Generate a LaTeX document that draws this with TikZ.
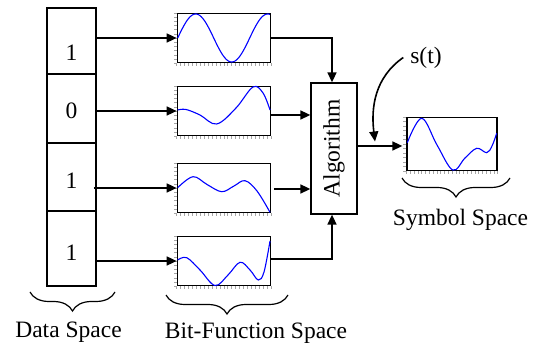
\documentclass[tikz,border=0pt]{standalone}
\usepackage{fontspec}
\setmainfont{Liberation Serif}
\usetikzlibrary{arrows.meta,calc,decorations.pathreplacing}
\newcommand{\plotticks}[1]{%
  \foreach \k in {0,...,12}{\draw[tickmark] ($(#1.south west)!{\k/12}!(#1.north west)$) -- ++(-3,0);}
  \foreach \k in {0,...,24}{\draw[tickmark] ($(#1.south west)!{\k/24}!(#1.south east)$) -- ++(0,2.5);}
}
\begin{document}
\begin{tikzpicture}[x=0.5pt,y=-0.5pt,
  font=\fontsize{11.75pt}{14pt}\selectfont,
  cell/.style={draw, line width=0.85pt, minimum width=24.5pt, inner sep=0},
  digit/.style={inner sep=0},
  plotbox/.style={draw, line width=0.65pt, minimum width=46.5pt, minimum height=24.5pt, inner sep=0},
  wave/.style={blue, line width=0.55pt},
  tickmark/.style={gray!70, line width=0.25pt},
  conn/.style={line width=0.8pt, -{Triangle[length=5pt,width=4.5pt]}},
  algbox/.style={draw, line width=0.65pt, minimum width=23pt, minimum height=65.5pt, inner sep=0},
  spacebrace/.style={decorate, decoration={brace, mirror, amplitude=9.5pt}, line width=0.6pt},
  lbl/.style={inner sep=0}]
\useasboundingbox (0,0) rectangle (534,346);

% data cells
\node[cell, minimum height=33pt]   (c1) at (71.5,41) {};
\node[cell, minimum height=34.5pt] (c2) at (71.5,108.5) {};
\node[cell, minimum height=34pt]   (c3) at (71.5,177) {};
\node[cell, minimum height=37.5pt] (c4) at (71.5,248.5) {};
\node[digit] (d1) at (71.5,52.5) {1};
\node[digit] (d2) at (71.5,111) {0};
\node[digit] (d3) at (71.5,181) {1};
\node[digit] (d4) at (71.5,252.5) {1};

% plots
\node[plotbox] (p1) at (223.8,38) {};
\node[plotbox] (p2) at (223.8,111) {};
\node[plotbox] (p3) at (223.8,188) {};
\node[plotbox] (p4) at (223.8,261) {};
\node[plotbox, minimum width=45pt, minimum height=26.5pt] (ps) at (452,144) {};
\plotticks{p1}
\plotticks{p2}
\plotticks{p3}
\plotticks{p4}
\plotticks{ps}

\draw[wave] plot[domain=0:92.3, samples=80] ({177.7+\x}, {38-24*sin(5*\x)});
\draw[wave] plot[smooth, tension=0.6] coordinates {(177.7,110) (186,109.5) (200,115) (216.7,124) (236,108) (253,87) (263,93) (270,110)};
\draw[wave] plot[smooth, tension=0.6] coordinates {(177.7,187.7) (193,176.7) (207,184.5) (221.7,191.7) (234,186) (245,180.7) (257,191) (270,212.3)};
\draw[wave] plot[smooth, tension=0.6] coordinates {(177.7,260) (186.7,257.7) (200,270) (215,285.5) (228,275) (240,262.3) (250,270) (258.3,280) (264,272) (270,241)};
\draw[wave] plot[smooth, tension=0.6] coordinates {(407.3,142.7) (421.7,118.3) (437,145) (452.7,170) (465,158) (476.7,148.3) (486.7,152.7) (492,146) (496.7,133.3)};

% algorithm
\node[algbox] (alg) at (334,148.5) {};
\node[lbl, rotate=90] (algtxt) at (alg.center) {Algorithm};

% data -> plots
\draw[conn] (c1.east |- p1.west) -- (p1.west);
\draw[conn] (c2.east |- p2.west) -- (p2.west);
\coordinate (s3) at ($(c3.east |- p3.west)+(-3,0)$);
\draw[conn] (s3) -- (p3.west);
\draw[conn] (c4.east |- p4.west) -- (p4.west);

% plots -> algorithm
\draw[conn] (p1.east) -| ($(alg.north)+(-2,0)$);
\coordinate (a2) at ($(p2.east)+(0,4)$);
\draw[conn] (a2) -- (a2 -| alg.west);
\coordinate (a3) at ($(p3.east)+(3,1)$);
\draw[conn] (a3) -- (a3 -| alg.west);
\coordinate (a4) at ($(p4.east)+(0,-2)$);
\draw[conn] (a4) -| ($(alg.south)+(-2,0)$);

% algorithm -> symbol
\coordinate (o1) at ($(alg.east)+(0,-2.5)$);
\draw[conn, shorten >=2pt] (o1) -- (o1 -| ps.west);

% s(t)
\node (st) at (426,57.5) {s(t)};
\coordinate (stend) at (375,141.5);
\draw[conn] (st.west) to[out=215, in=97] (stend);

% braces and labels
\draw[spacebrace] (30,292) -- (115,292);
\draw[spacebrace] (166,295) -- (288,295);
\draw[spacebrace] (402,178) -- (510,178);
\node[lbl] (dsp) at (68.5,332) {Data Space};
\node[lbl] (bsp) at (256,333) {Bit-Function Space};
\node[lbl] (ssp) at (460.5,220) {Symbol Space};
\end{tikzpicture}
\end{document}
